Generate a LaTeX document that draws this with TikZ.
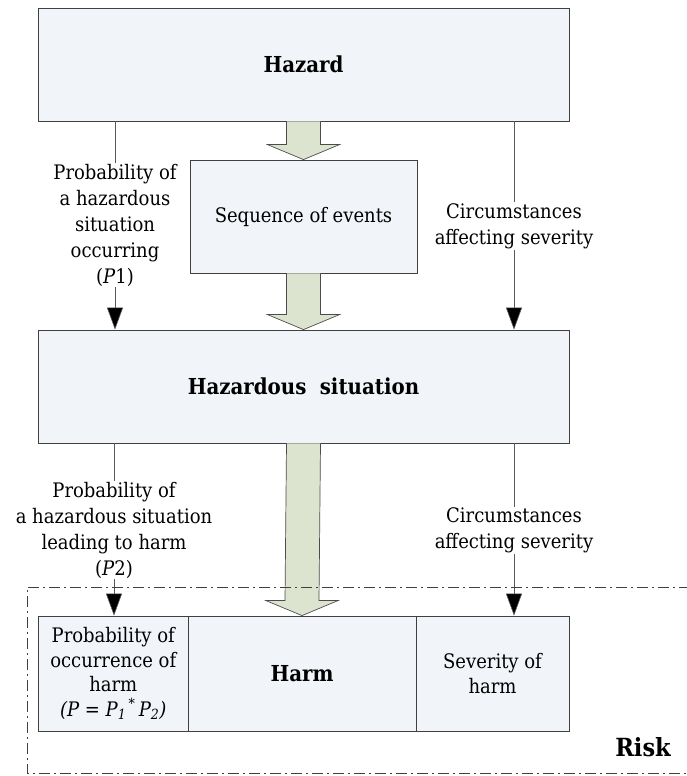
\documentclass[tikz,border=0pt]{standalone}
\usepackage{fontspec}
\setmainfont{DejaVu Serif Condensed}
\usepackage{xcolor}
\usepackage{tikz}
\usetikzlibrary{arrows.meta, calc}
\definecolor{boxfill}{HTML}{F1F4F8}
\definecolor{arrowfill}{HTML}{DCE3CF}
\tikzstyle{box} = [draw=black!75, fill=boxfill, line width=0.8pt, inner sep=0pt, align=center]
\tikzstyle{lbl} = [align=center, inner sep=1pt, font=\fontsize{20}{26}\selectfont]
\tikzstyle{plain} = [draw=black!65, line width=0.6pt]
\tikzstyle{arrow} = [plain, -{Triangle[width=16pt,length=22pt,fill=black]}]
\tikzstyle{fat} = [fill=arrowfill, draw=black!70, line width=0.7pt]
\tikzstyle{frame} = [draw=black!75, line width=0.6pt, dash pattern=on 11pt off 4pt on 2pt off 4pt]

% fat arrow from the bottom of one box to the top of the next
\newcommand{\fatarrow}[2]{%
	\draw[fat] ($(#1.south)+(-17,0)$) -- ($(#2.north)+(-17,15)$) -- ($(#2.north)+(-36,15)$) -- (#2.north)
		-- ($(#2.north)+(36,15)$) -- ($(#2.north)+(17,15)$) -- ($(#1.south)+(17,0)$);
}

\begin{document}
\begin{tikzpicture}[x=1pt,y=1pt]
				\useasboundingbox (0,0) rectangle (686,776);
				\begin{scope}[font=\fontsize{20}{26}\selectfont]
					
					% Boxes:
					\node[box, minimum width=531, minimum height=113, font=\fontsize{22}{26}\selectfont\bfseries] (hazard) at (303.5,711.5) {Hazard};
					\node[box, minimum width=227, minimum height=113] (seq) at (303.5,559.5) {Sequence of events};
					\node[box, minimum width=531, minimum height=113, font=\fontsize{22}{26}\selectfont\bfseries] (hsit) at (303.5,389.5) {Hazardous\hspace{0.3em} situation};
					
					% Risk row:
					\node[box, minimum width=149.5, minimum height=115, font=\fontsize{20}{24.5}\selectfont] (prob) at (113.25,102.5) {Probability of\\occurrence of\\harm\\\textit{(P = P\textsubscript{1}\textsuperscript{\,*}\,P\textsubscript{2})}};
					\node[box, minimum width=228, minimum height=115, font=\fontsize{22}{26}\selectfont\bfseries] (harm) at (302,102.5) {Harm};
					\node[box, minimum width=153, minimum height=115, font=\fontsize{20}{24.5}\selectfont] (sev) at (492.5,102.5) {Severity of\\harm};
					
					% Labels on the side lines:
					\node[lbl] (p1lab) at (115,551) {Probability of\\a hazardous\\situation\\occurring\\(\textit{P}1)};
					\node[lbl] (c1lab) at (514,550) {Circumstances\\affecting severity};
					\node[lbl] (p2lab) at (114,246) {Probability of\\a hazardous situation\\leading to harm\\(\textit{P}2)};
					\node[lbl] (c2lab) at (514,245.5) {Circumstances\\affecting severity};
					
					% Side lines:
					\draw[plain] (hazard.south -| p1lab) -- (p1lab);
					\draw[arrow] (p1lab) -- (hsit.north -| p1lab);
					\draw[plain] (hazard.south -| c1lab) -- (c1lab);
					\draw[arrow] (c1lab) -- (hsit.north -| c1lab);
					\draw[plain] (hsit.south -| p2lab) -- (p2lab);
					\draw[arrow] (p2lab) -- (prob.north -| p2lab);
					\draw[plain] (hsit.south -| c2lab) -- (c2lab);
					\draw[arrow] (c2lab) -- (sev.north -| c2lab);
					
					% Fat arrows:
					\fatarrow{hazard}{seq}
					\fatarrow{seq}{hsit}
					\fatarrow{hsit}{harm}
					
					% Risk frame:
					\draw[frame] (690,189) -- (27,189) -- (27,3) -- (690,3);
					\node[font=\fontsize{25}{28}\selectfont\bfseries] (risk) at (643,29) {Risk};
					
				\end{scope}
\end{tikzpicture}
\end{document}
